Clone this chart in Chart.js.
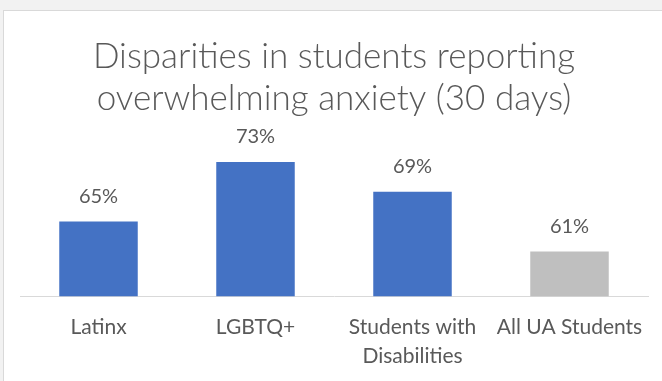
<!DOCTYPE html>
<html>
<head>
<meta charset="utf-8">
<script src="https://cdn.jsdelivr.net/npm/chart.js@4"></script>
<style>
  html, body { margin: 0; padding: 0; background: #f2f2f2; overflow: hidden; }
  .panel {
    position: absolute; left: 3px; top: 10px; width: 700px; height: 400px;
    background: #fff; border: 1px solid #d9d9d9;
  }
  .wrap { position: absolute; left: 0; top: 0; width: 662px; height: 381px; }
</style>
</head>
<body>
<div class="panel"></div>
<div class="wrap"><canvas id="anxietyChart" width="662" height="381"></canvas></div>
<script>
var groups = ['Latinx', 'LGBTQ+', ['Students with', 'Disabilities'], 'All UA Students'];
var percents = [65, 73, 69, 61];
var barColors = ['#4472c4', '#4472c4', '#4472c4', '#bfbfbf'];

var textColor = '#595959';
var fontFamily = 'Lato, "Open Sans", sans-serif';

// writes the percentage just above each bar
var valueLabels = {
    id: 'valueLabels',
    afterDatasetsDraw: function (chart) {
        var ctx = chart.ctx;
        var meta = chart.getDatasetMeta(0);
        ctx.save();
        ctx.fillStyle = textColor;
        ctx.font = '20px ' + fontFamily;
        ctx.textAlign = 'center';
        ctx.textBaseline = 'middle';
        meta.data.forEach(function (bar, i) {
            ctx.fillText(percents[i] + '%', bar.x, bar.y - 25);
        });
        ctx.restore();
    }
};

var ctx = document.getElementById('anxietyChart').getContext('2d');
var chart = new Chart(ctx, {
    type: 'bar',
    data: {
        labels: groups,
        datasets: [{
            data: percents,
            backgroundColor: barColors,
            barPercentage: 0.5,
            categoryPercentage: 1.0
        }]
    },
    options: {
        responsive: false,
        animation: false,
        layout: { padding: { left: 20, right: 14, top: 36, bottom: 2 } },
        plugins: {
            legend: { display: false },
            tooltip: { enabled: false },
            title: {
                display: true,
                text: ['Disparities in students reporting', 'overwhelming anxiety (30 days)'],
                color: textColor,
                font: { family: fontFamily, size: 35, weight: 300, lineHeight: 1.2 },
                padding: { top: 0, bottom: 27 }
            }
        },
        scales: {
            x: {
                grid: { display: false },
                border: { color: '#d9d9d9', width: 1 },
                ticks: {
                    color: textColor,
                    font: { family: fontFamily, size: 21, lineHeight: 1.4 },
                    maxRotation: 0,
                    padding: 8
                }
            },
            y: {
                display: false,
                min: 55,
                max: 75
            }
        }
    },
    plugins: [valueLabels]
});
</script>
</body>
</html>
